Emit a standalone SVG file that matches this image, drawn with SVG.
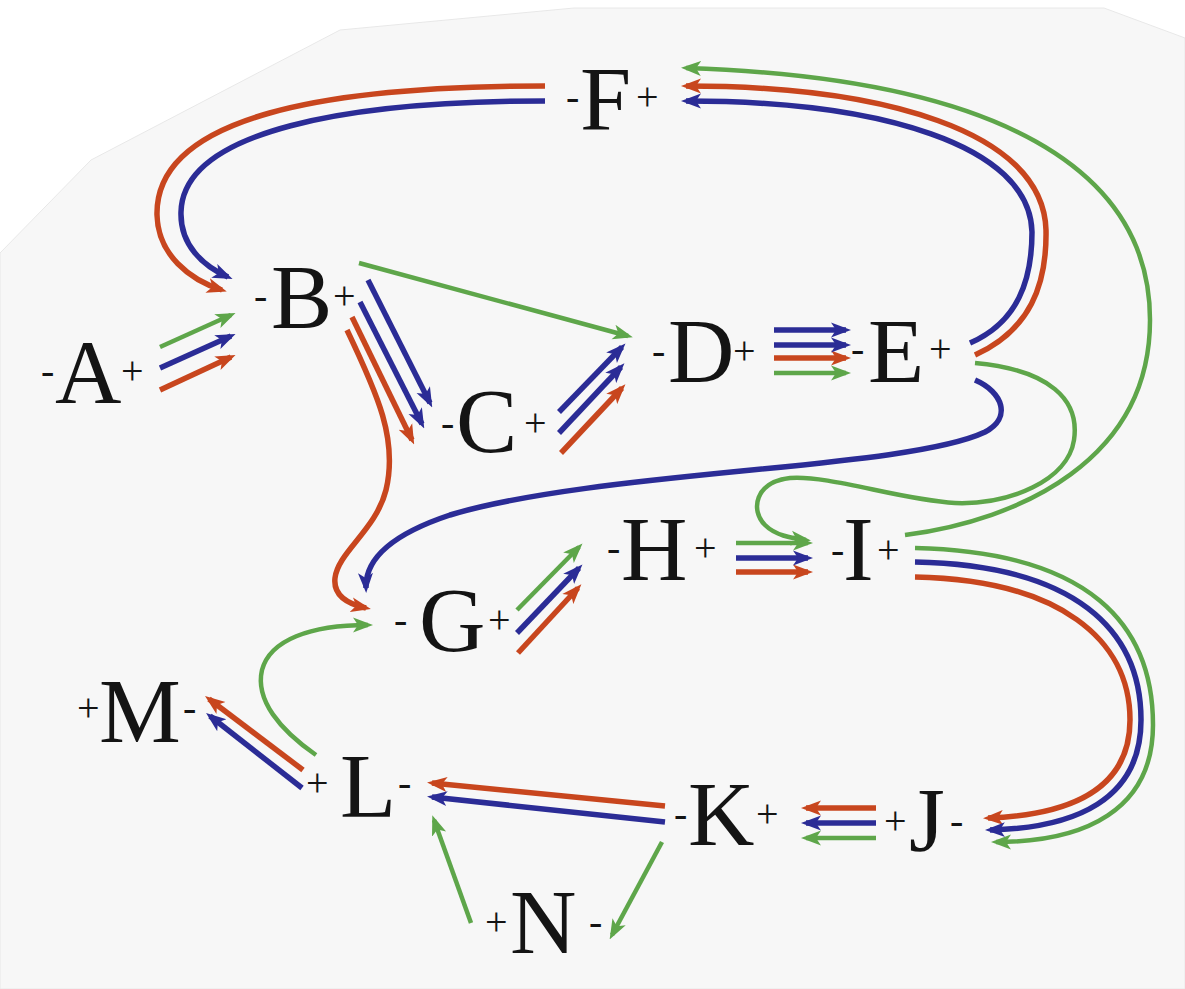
<svg xmlns="http://www.w3.org/2000/svg" width="1185" height="989" viewBox="0 0 1185 989">
<style>
.r{fill:none;stroke:#c8461e;stroke-width:5.5;marker-end:url(#ar)}
.b{fill:none;stroke:#2b2c96;stroke-width:5.5;marker-end:url(#ab)}
.g{fill:none;stroke:#5ea64a;stroke-width:4.5;marker-end:url(#ag)}
</style>
<defs>
<marker id="ar" markerUnits="userSpaceOnUse" markerWidth="20" markerHeight="17" viewBox="0 0 20 17" refX="15" refY="8.5" orient="auto"><path d="M0,1 L20,8.5 L0,16 L5,8.5 Z" fill="#c8461e"/></marker>
<marker id="ab" markerUnits="userSpaceOnUse" markerWidth="20" markerHeight="17" viewBox="0 0 20 17" refX="15" refY="8.5" orient="auto"><path d="M0,1 L20,8.5 L0,16 L5,8.5 Z" fill="#2b2c96"/></marker>
<marker id="ag" markerUnits="userSpaceOnUse" markerWidth="20" markerHeight="17" viewBox="0 0 20 17" refX="15" refY="8.5" orient="auto"><path d="M0,1 L20,8.5 L0,16 L5,8.5 Z" fill="#5ea64a"/></marker>
</defs>
<rect width="1185" height="989" fill="#ffffff"/>
<path d="M0,253 L91,160 L340,30 L574,8 L1104,8 L1185,38 L1185,989 L0,989 Z" fill="#f7f7f7" stroke="#e8e8e8" stroke-width="1"/>
<g id="connectors">
<path class="r" d="M545,86 C330,86 155,115 157,215 C158,255 190,280 222,290"/>
<path class="r" d="M975,355 C1030,330 1047,285 1046,230 C1043,130 880,86 686,86"/>
<path class="r" d="M352,317 L412,440"/>
<path class="r" d="M347,330 C378,395 398,440 386,490 C376,530 338,552 335,578 C333,596 348,604 366,608"/>
<path class="r" d="M561,453 L622,388"/>
<path class="r" d="M774,358 L846,358"/>
<path class="r" d="M518,653 L578,588"/>
<path class="r" d="M736,572 L808,572"/>
<path class="r" d="M915,577 C1060,580 1130,640 1130,720 C1130,790 1070,815 988,818"/>
<path class="r" d="M876,808 L806,808"/>
<path class="r" d="M665,806 L432,783"/>
<path class="r" d="M303,770 L209,699"/>
<path class="r" d="M160,390 L231,357"/>
<path class="b" d="M545,101 C350,101 183,130 181,212 C180,245 203,266 228,277"/>
<path class="b" d="M970,343 C1018,322 1032,280 1032,232 C1030,145 880,101 686,101"/>
<path class="b" d="M368,280 L430,403"/>
<path class="b" d="M360,302 L422,424"/>
<path class="b" d="M559,412 L622,347"/>
<path class="b" d="M559,433 L621,367"/>
<path class="b" d="M774,330 L846,330"/>
<path class="b" d="M774,345 L846,345"/>
<path class="b" d="M975,380 C1003,392 1012,418 985,432 C905,470 600,470 450,515 C390,535 365,560 366,588"/>
<path class="b" d="M517,633 L579,568"/>
<path class="b" d="M736,558 L808,558"/>
<path class="b" d="M915,562 C1075,565 1141,630 1141,720 C1141,800 1075,828 990,830"/>
<path class="b" d="M876,823 L806,823"/>
<path class="b" d="M665,822 L432,797"/>
<path class="b" d="M302,788 L210,716"/>
<path class="b" d="M160,368 L231,336"/>
<path class="g" d="M160,347 L231,315"/>
<path class="g" d="M359,263 L628,336"/>
<path class="g" d="M774,373 L846,373"/>
<path class="g" d="M975,363 C1050,370 1080,400 1074,440 C1068,480 1010,505 955,503 C900,500 830,475 790,478 C755,482 750,510 765,525 C775,535 790,538 806,540"/>
<path class="g" d="M905,535 C1020,520 1150,460 1150,320 C1150,170 1000,78 686,68"/>
<path class="g" d="M736,543 L808,543"/>
<path class="g" d="M517,610 L579,547"/>
<path class="g" d="M915,548 C1090,552 1153,625 1153,725 C1153,810 1085,842 996,842"/>
<path class="g" d="M876,838 L806,838"/>
<path class="g" d="M662,842 L612,935"/>
<path class="g" d="M471,923 L434,820"/>
<path class="g" d="M316,755 C280,730 255,700 262,670 C270,640 310,625 368,625"/>
</g>
<g font-family="Liberation Serif, Times New Roman, serif" fill="#141414">
<g id="node-A"><text font-size="40" x="41" y="384">-</text><text font-size="92" x="55" y="403">A</text><text font-size="40" x="121" y="384">+</text></g>
<g id="node-B"><text font-size="40" x="254" y="309">-</text><text font-size="92" x="271" y="328">B</text><text font-size="40" x="333" y="309">+</text></g>
<g id="node-C"><text font-size="40" x="441" y="436">-</text><text font-size="92" x="456" y="452">C</text><text font-size="40" x="524" y="436">+</text></g>
<g id="node-D"><text font-size="40" x="652" y="364">-</text><text font-size="92" x="668" y="382">D</text><text font-size="40" x="733" y="364">+</text></g>
<g id="node-E"><text font-size="40" x="851" y="362">-</text><text font-size="92" x="868" y="382">E</text><text font-size="40" x="929" y="362">+</text></g>
<g id="node-F"><text font-size="40" x="566" y="110">-</text><text font-size="92" x="580" y="130">F</text><text font-size="40" x="636" y="110">+</text></g>
<g id="node-G"><text font-size="40" x="394" y="633">-</text><text font-size="92" x="419" y="651">G</text><text font-size="40" x="488" y="633">+</text></g>
<g id="node-H"><text font-size="40" x="607" y="561">-</text><text font-size="92" x="621" y="580">H</text><text font-size="40" x="694" y="561">+</text></g>
<g id="node-I"><text font-size="40" x="831" y="563">-</text><text font-size="92" x="843" y="580">I</text><text font-size="40" x="877" y="563">+</text></g>
<g id="node-J"><text font-size="40" x="884" y="834">+</text><text font-size="92" x="909" y="851">J</text><text font-size="40" x="950" y="834">-</text></g>
<g id="node-K"><text font-size="40" x="674" y="827">-</text><text font-size="92" x="688" y="845">K</text><text font-size="40" x="756" y="827">+</text></g>
<g id="node-L"><text font-size="40" x="306" y="796">+</text><text font-size="92" x="340" y="817">L</text><text font-size="40" x="398" y="796">-</text></g>
<g id="node-M"><text font-size="40" x="77" y="721">+</text><text font-size="92" x="99" y="742">M</text><text font-size="40" x="183" y="721">-</text></g>
<g id="node-N"><text font-size="40" x="485" y="935">+</text><text font-size="92" x="510" y="953">N</text><text font-size="40" x="589" y="935">-</text></g>
</g>
</svg>
